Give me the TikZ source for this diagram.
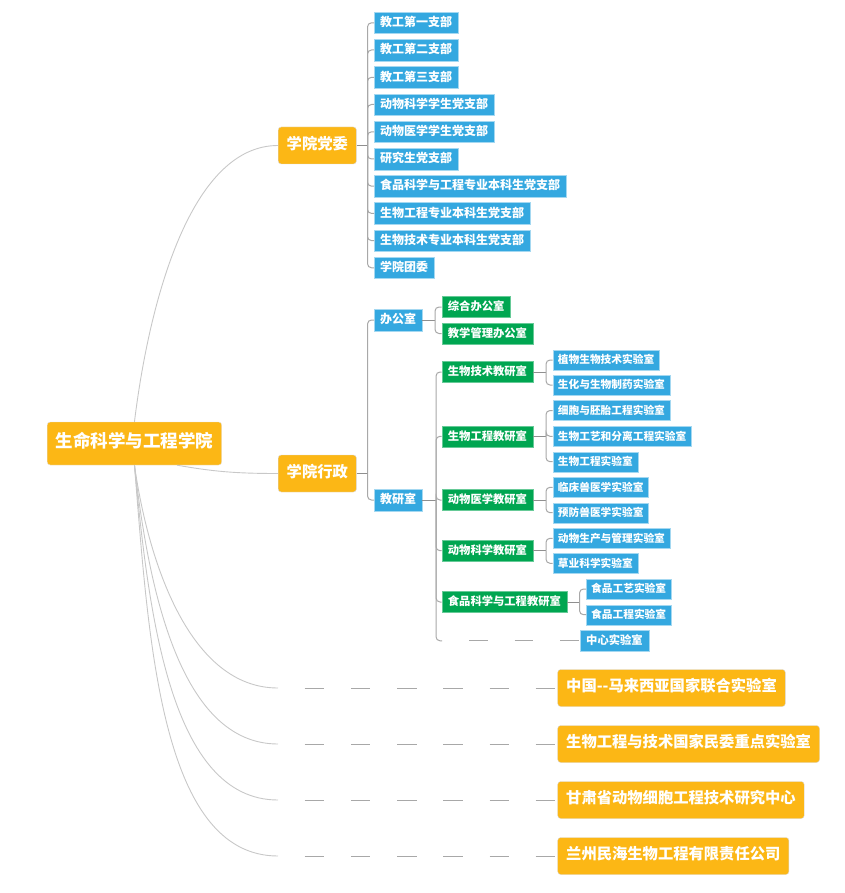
\documentclass[tikz,border=0pt]{standalone}
\usepackage{fontspec}
\newfontfamily\cjk{Noto Sans CJK SC}
\usetikzlibrary{positioning}
\definecolor{corange}{HTML}{FCB715}
\definecolor{cblue}{HTML}{34A8E0}
\definecolor{cgreen}{HTML}{00A651}
\definecolor{clink}{HTML}{C8C8C8}
\definecolor{ctree}{HTML}{A8A8A8}

\tikzset{
  box/.style={anchor=west, text=white, inner ysep=0pt, text height=0.88em, text depth=0.12em},
  rootbox/.style={box, fill=corange, draw=black!12, rounded corners=3pt, inner xsep=8.5pt, minimum height=43pt, font=\cjk\bfseries\fontsize{17.5}{20}\selectfont},
  mainbox/.style={box, fill=corange, draw=black!15, rounded corners=3pt, inner xsep=8.5pt, minimum height=37pt, font=\cjk\bfseries\fontsize{15.3}{18}\selectfont},
  bluebox/.style={box, fill=cblue, draw=cblue!45, inner xsep=6pt, minimum height=21.5pt, font=\cjk\bfseries\fontsize{12}{14}\selectfont},
  greenbox/.style={box, fill=cgreen, draw=cgreen!60, inner xsep=6pt, minimum height=21pt, font=\cjk\bfseries\fontsize{11.3}{13}\selectfont},
  labbox/.style={box, fill=cblue, draw=cblue!45, inner xsep=5pt, minimum height=20pt, font=\cjk\bfseries\fontsize{10.7}{12}\selectfont},
  curve/.style={draw=clink, line width=0.9pt},
  stem/.style={draw=ctree!85!black, line width=1pt},
  branch/.style={draw=ctree, line width=1pt, rounded corners=4pt},
  dashline/.style={draw=ctree, line width=1pt, dash pattern=on 19.5pt off 26.7pt, dash phase=19.5pt},
  dashtree/.style={draw=ctree, line width=1pt, dash pattern=on 18.3pt off 27.2pt, dash phase=18.3pt}
}

\begin{document}
\begin{tikzpicture}[x=1pt,y=-1pt]
        \useasboundingbox (0,0) rectangle (844,893);
        % root and main branches
        \node [rootbox] (0) at (47,443.5) {生命科学与工程学院};
        \node [mainbox] (dw) at (278,145.5) {学院党委};
        \node [mainbox] (xz) at (278,473.5) {学院行政};
        \node [mainbox] (m1) at (557.5,688) {中国-{}-马来西亚国家联合实验室};
        \node [mainbox] (m2) at (557.5,744) {生物工程与技术国家民委重点实验室};
        \node [mainbox] (m3) at (557.5,800) {甘肃省动物细胞工程技术研究中心};
        \node [mainbox] (m4) at (557.5,856) {兰州民海生物工程有限责任公司};
        \coordinate (e1) at (278,688);
        \coordinate (e2) at (278,744);
        \coordinate (e3) at (278,800);
        \coordinate (e4) at (278,856);

        % party branches
        \node [bluebox] (p1) at (374,22.8) {教工第一支部};
        \node [bluebox] (p2) at (374,50) {教工第二支部};
        \node [bluebox] (p3) at (374,77.3) {教工第三支部};
        \node [bluebox] (p4) at (374,104.5) {动物科学学生党支部};
        \node [bluebox] (p5) at (374,131.8) {动物医学学生党支部};
        \node [bluebox] (p6) at (374,159) {研究生党支部};
        \node [bluebox] (p7) at (374,186.2) {食品科学与工程专业本科生党支部};
        \node [bluebox] (p8) at (374,213.4) {生物工程专业本科生党支部};
        \node [bluebox] (p9) at (374,240.6) {生物技术专业本科生党支部};
        \node [bluebox] (p10) at (374,267.8) {学院团委};

        % administration
        \node [bluebox] (bgs) at (374,320) {办公室};
        \node [bluebox] (jys) at (374,500) {教研室};
        \node [greenbox] (g1) at (441.7,307) {综合办公室};
        \node [greenbox] (g2) at (441.7,333.5) {教学管理办公室};
        \node [greenbox] (g3) at (441.7,372) {生物技术教研室};
        \node [greenbox] (g4) at (441.7,436.3) {生物工程教研室};
        \node [greenbox] (g5) at (441.7,500) {动物医学教研室};
        \node [greenbox] (g6) at (441.7,550.7) {动物科学教研室};
        \node [greenbox] (g7) at (441.7,602) {食品科学与工程教研室};
        \node [bluebox, font=\cjk\bfseries\fontsize{11.3}{13}\selectfont] (zx) at (580,640.8) {中心实验室};

        % labs
        \node [labbox] (l1) at (552.7,360) {植物生物技术实验室};
        \node [labbox] (l2) at (552.7,385) {生化与生物制药实验室};
        \node [labbox] (l3) at (552.7,410.5) {细胞与胚胎工程实验室};
        \node [labbox] (l4) at (552.7,436.3) {生物工艺和分离工程实验室};
        \node [labbox] (l5) at (552.7,461.7) {生物工程实验室};
        \node [labbox] (l6) at (552.7,487.3) {临床兽医学实验室};
        \node [labbox] (l7) at (552.7,512.7) {预防兽医学实验室};
        \node [labbox] (l8) at (552.7,538.3) {动物生产与管理实验室};
        \node [labbox] (l9) at (552.7,563.3) {草业科学实验室};
        \node [labbox] (l10) at (586,589) {食品工艺实验室};
        \node [labbox] (l11) at (586,614.7) {食品工程实验室};

        % junctions
        \coordinate (j1) at (367.5,145.5);
        \coordinate (j2) at (367.5,473.5);
        \coordinate (j3) at (435,320);
        \coordinate (j4) at (436,500);
        \coordinate (k3) at (546,372);
        \coordinate (k4) at (546,436.3);
        \coordinate (k5) at (546,500);
        \coordinate (k6) at (546,550.7);
        \coordinate (k7) at (579.5,602);
        \coordinate (zc) at (442,640.8);

        % curves from the root
        \draw [curve] (0.north) .. controls +(15,-122) and +(-87,0) .. (dw.west);
        \draw [curve] (0.-27) .. controls +(35,6) and +(-45,0) .. (xz.west);
        \draw [curve] (0.south) .. controls +(14,98) and +(-88,0) .. (e1);
        \draw [curve] (0.south) .. controls +(14,123) and +(-98,0) .. (e2);
        \draw [curve] (0.south) .. controls +(14,147) and +(-108,0) .. (e3);
        \draw [curve] (0.south) .. controls +(14,172) and +(-118,0) .. (e4);
        \draw [dashline] (e1) -- (m1.west);
        \draw [dashline] (e2) -- (m2.west);
        \draw [dashline] (e3) -- (m3.west);
        \draw [dashline] (e4) -- (m4.west);

        % tree lines
        \draw [stem] (dw.east) -- (j1);
        \draw [branch] (j1) |- (p1.west);
        \draw [branch] (j1) |- (p2.west);
        \draw [branch] (j1) |- (p3.west);
        \draw [branch] (j1) |- (p4.west);
        \draw [branch] (j1) |- (p5.west);
        \draw [branch] (j1) |- (p6.west);
        \draw [branch] (j1) |- (p7.west);
        \draw [branch] (j1) |- (p8.west);
        \draw [branch] (j1) |- (p9.west);
        \draw [branch] (j1) |- (p10.west);

        \draw [stem] (xz.east) -- (j2);
        \draw [branch] (j2) |- (bgs.west);
        \draw [branch] (j2) |- (jys.west);
        \draw [stem] (bgs.east) -- (j3);
        \draw [branch] (j3) |- (g1.west);
        \draw [branch] (j3) |- (g2.west);
        \draw [stem] (jys.east) -- (j4);
        \draw [branch] (j4) |- (g3.west);
        \draw [branch] (j4) |- (g4.west);
        \draw [branch] (j4) |- (g5.west);
        \draw [branch] (j4) |- (g6.west);
        \draw [branch] (j4) |- (g7.west);
        \draw [branch] (j4) |- (zc);
        \draw [dashtree] (zc) -- (zx.west);

        \draw [stem] (g3.east) -- (k3);
        \draw [branch] (k3) |- (l1.west);
        \draw [branch] (k3) |- (l2.west);
        \draw [stem] (g4.east) -- (k4);
        \draw [branch] (k4) |- (l3.west);
        \draw [branch] (k4) |- (l4.west);
        \draw [branch] (k4) |- (l5.west);
        \draw [stem] (g5.east) -- (k5);
        \draw [branch] (k5) |- (l6.west);
        \draw [branch] (k5) |- (l7.west);
        \draw [stem] (g6.east) -- (k6);
        \draw [branch] (k6) |- (l8.west);
        \draw [branch] (k6) |- (l9.west);
        \draw [stem] (g7.east) -- (k7);
        \draw [branch] (k7) |- (l10.west);
        \draw [branch] (k7) |- (l11.west);
\end{tikzpicture}
\end{document}
